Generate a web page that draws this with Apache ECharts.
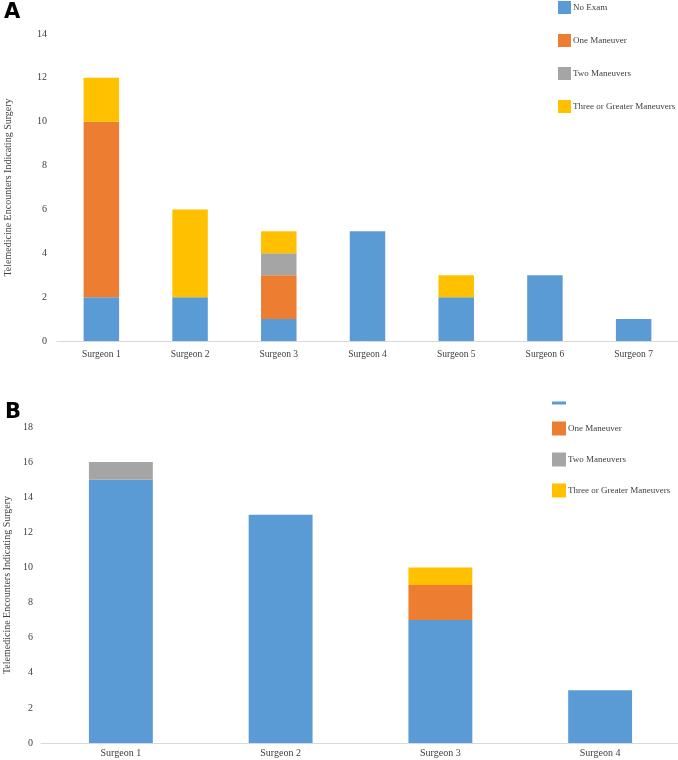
<!DOCTYPE html>
<html>
<head>
<meta charset="utf-8">
<script src="https://cdn.jsdelivr.net/npm/echarts@6/dist/echarts.min.js"></script>
<style>html,body{margin:0;padding:0;background:#fff}#c{width:678px;height:760px}</style>
</head>
<body>
<div id="c"></div>
<script>
const seriesNames = ['No Exam', 'One Maneuver', 'Two Maneuvers', 'Three or Greater Maneuvers'];
const colors = ['#5B9BD5', '#ED7D31', '#A5A5A5', '#FFC000'];
const yAxisName = 'Telemedicine Encounters Indicating Surgery';

const categoriesA = ['Surgeon 1', 'Surgeon 2', 'Surgeon 3', 'Surgeon 4', 'Surgeon 5', 'Surgeon 6', 'Surgeon 7'];
const noExamA = [2, 2, 1, 5, 2, 3, 1];
const oneA = [8, 0, 2, 0, 0, 0, 0];
const twoA = [0, 0, 1, 0, 0, 0, 0];
const threeA = [2, 4, 1, 0, 1, 0, 0];

const categoriesB = ['Surgeon 1', 'Surgeon 2', 'Surgeon 3', 'Surgeon 4'];
const noExamB = [15, 13, 7, 3];
const oneB = [0, 0, 2, 0];
const twoB = [1, 0, 0, 0];
const threeB = [0, 0, 1, 0];

const serif = '"Liberation Serif", "DejaVu Serif", serif';
const labelColor = '#404040';

function xAxis(idx, cats, size, margin) {
  return {
    type: 'category', gridIndex: idx, data: cats,
    axisLine: { lineStyle: { color: '#D9D9D9', width: 1 } },
    axisTick: { show: false },
    axisLabel: { fontFamily: serif, fontSize: size, color: labelColor, margin: margin }
  };
}
function yAxis(idx, max, gap, margin) {
  return {
    type: 'value', gridIndex: idx, min: 0, max: max, interval: 2,
    name: yAxisName, nameLocation: 'middle', nameGap: gap,
    nameTextStyle: { fontFamily: serif, fontSize: 10, color: labelColor },
    axisLine: { show: false }, axisTick: { show: false },
    splitLine: { show: false },
    axisLabel: { fontFamily: serif, fontSize: 10, color: labelColor, margin: margin }
  };
}
function mk(name, data, i, idx) {
  return {
    name: name, type: 'bar', stack: 's' + idx, xAxisIndex: idx, yAxisIndex: idx,
    data: data, barWidth: '40%', itemStyle: { color: colors[i] }
  };
}
function legend(left, top, size, gap, items, fmt) {
  return {
    orient: 'vertical', left: left, top: top, padding: 0,
    itemWidth: size, itemHeight: size, itemGap: gap,
    icon: 'rect', selectedMode: false,
    textStyle: { fontFamily: serif, fontSize: 9, color: labelColor, padding: [0, 0, 0, -3] },
    formatter: fmt,
    data: items
  };
}

const chart = echarts.init(document.getElementById('c'), null, { renderer: 'canvas' });
chart.setOption({
  animation: false,
  backgroundColor: '#fff',
  grid: [
    { left: 57, right: 0, top: 34, height: 307, outerBoundsMode: 'none', containLabel: false },
    { left: 41, right: -2, top: 427, height: 316, outerBoundsMode: 'none', containLabel: false }
  ],
  xAxis: [xAxis(0, categoriesA, 9.5, 8), xAxis(1, categoriesB, 10, 5)],
  yAxis: [yAxis(0, 14, 44, 10), yAxis(1, 18, 28, 8)],
  legend: [
    legend(558, 1, 13, 20, seriesNames.map(n => ({ name: n })), null),
    legend(552, 396, 14, 17, [
      { name: seriesNames[0] + ' ', icon: 'path://M0,0H14V3H0Z' },
      { name: seriesNames[1] + ' ' },
      { name: seriesNames[2] + ' ' },
      { name: seriesNames[3] + ' ' }
    ], function (n) { return n === seriesNames[0] + ' ' ? '' : n; })
  ],
  graphic: [
    { type: 'text', left: 4, top: 2, style: { text: 'A', font: 'bold 21px "DejaVu Sans", Arial, sans-serif', fill: '#000' } },
    { type: 'text', left: 5, top: 402, style: { text: 'B', font: 'bold 21px "DejaVu Sans", Arial, sans-serif', fill: '#000' } }
  ],
  series: [
    mk(seriesNames[0], noExamA, 0, 0),
    mk(seriesNames[1], oneA, 1, 0),
    mk(seriesNames[2], twoA, 2, 0),
    mk(seriesNames[3], threeA, 3, 0),
    mk(seriesNames[0] + ' ', noExamB, 0, 1),
    mk(seriesNames[1] + ' ', oneB, 1, 1),
    mk(seriesNames[2] + ' ', twoB, 2, 1),
    mk(seriesNames[3] + ' ', threeB, 3, 1)
  ]
});
</script>
</body>
</html>
